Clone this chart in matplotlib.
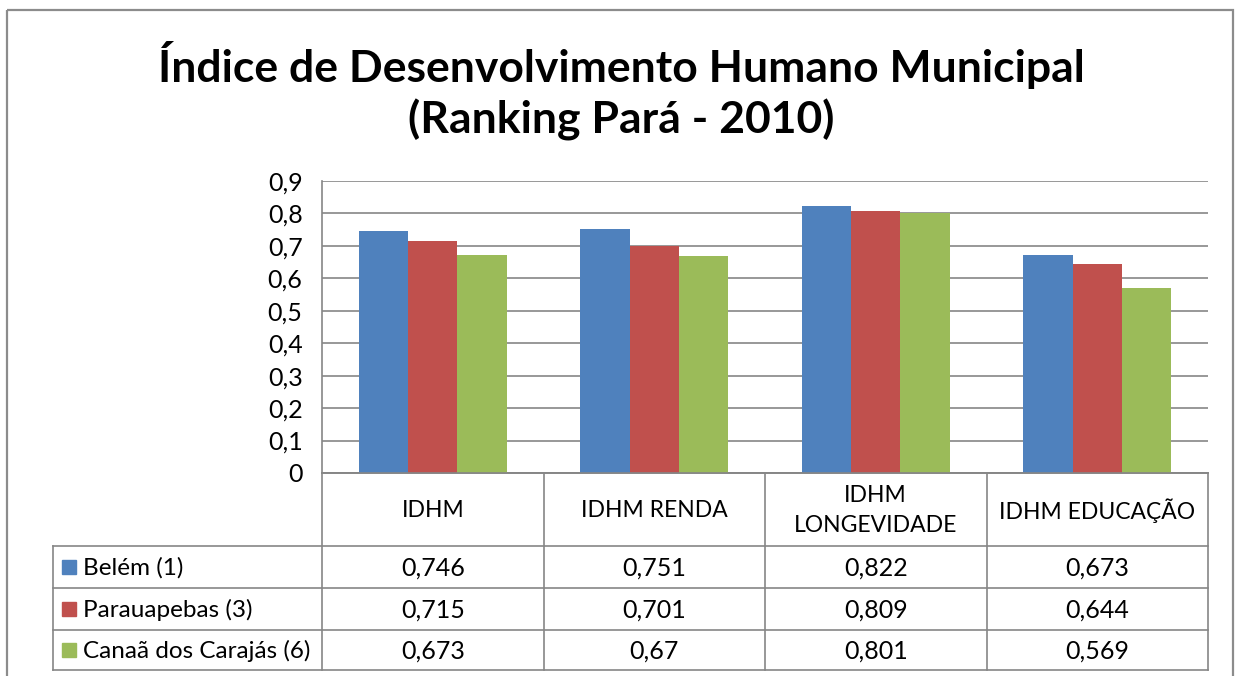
import matplotlib.pyplot as plt
import numpy as np
from matplotlib.patches import Rectangle
from matplotlib.ticker import FuncFormatter

plt.rcParams['font.family'] = ['Lato', 'DejaVu Sans']

# dados
categorias = ["IDHM", "IDHM RENDA", "IDHM\nLONGEVIDADE", "IDHM EDUCAÇÃO"]
series = ["Belém (1)", "Parauapebas (3)", "Canaã dos Carajás (6)"]
belem = [0.746, 0.751, 0.822, 0.673]
parauapebas = [0.715, 0.701, 0.809, 0.644]
canaa = [0.673, 0.670, 0.801, 0.569]
rotulos = [["0,746", "0,751", "0,822", "0,673"],
           ["0,715", "0,701", "0,809", "0,644"],
           ["0,673", "0,67", "0,801", "0,569"]]
cores = ["#4F81BD", "#C0504D", "#9BBB59"]

W, H = 1238, 676
fig = plt.figure(figsize=(W / 100, H / 100), dpi=100)

# area do grafico (pixels da figura)
L, R, T, B = 322, 1208, 181, 473
ax = fig.add_axes([L / W, 1 - B / H, (R - L) / W, (B - T) / H])

x = np.arange(len(categorias))
w = 1 / 4.5
for k, vals in enumerate([belem, parauapebas, canaa]):
    ax.bar(x + (k - 1) * w, vals, width=w, color=cores[k], zorder=3)

ax.set_xlim(-0.5, len(categorias) - 0.5)
ax.set_ylim(0, 0.9)
ax.set_yticks(np.arange(0, 0.95, 0.1))
ax.yaxis.set_major_formatter(FuncFormatter(lambda v, p: ("%g" % round(v, 1)).replace(".", ",")))
ax.set_xticks([])
ax.tick_params(axis='y', length=0, pad=14, labelsize=18)
ax.grid(axis='y', color='#868686', lw=1.2, zorder=0)
for s in ['top', 'right']:
    ax.spines[s].set_visible(False)
for s in ['left', 'bottom']:
    ax.spines[s].set_color('#868686')
    ax.spines[s].set_linewidth(1.2)

# camada para tabela e moldura, em pixels
ov = fig.add_axes([0, 0, 1, 1], zorder=-1)
ov.set_xlim(0, W)
ov.set_ylim(H, 0)
ov.axis('off')
ov2 = fig.add_axes([0, 0, 1, 1])
ov2.set_xlim(0, W)
ov2.set_ylim(H, 0)
ov2.axis('off')
ov2.patch.set_alpha(0)

ov.add_patch(Rectangle((7, 10), 1226, 700, fill=False, ec='#8c8c8c', lw=1.6))

cols = np.linspace(L, R, len(categorias) + 1)
linhas = [473, 546, 588, 630, 670]
tl = 53
gc = '#868686'
for cx in cols:
    ov2.plot([cx, cx], [linhas[0], linhas[-1]], color=gc, lw=1.2)
ov2.plot([tl, tl], [linhas[1], linhas[-1]], color=gc, lw=1.2)
ov2.plot([L, R], [linhas[0], linhas[0]], color=gc, lw=1.2)
for yy in linhas[1:]:
    ov2.plot([tl, R], [yy, yy], color=gc, lw=1.2)

for i, c in enumerate(categorias):
    ov2.text((cols[i] + cols[i + 1]) / 2, (linhas[0] + linhas[1]) / 2 + 1, c,
             ha='center', va='center', fontsize=16.5, linespacing=1.5)

for k, nome in enumerate(series):
    yc = (linhas[k + 1] + linhas[k + 2]) / 2
    ov2.add_patch(Rectangle((62, yc - 7), 14, 14, color=cores[k]))
    ov2.text(83, yc + 1, nome, ha='left', va='center', fontsize=17.5)
    for i in range(len(categorias)):
        ov2.text((cols[i] + cols[i + 1]) / 2, yc + 1, rotulos[k][i],
                 ha='center', va='center', fontsize=18)

ov2.text(621, 65, "Índice de Desenvolvimento Humano Municipal", ha='center', va='center',
         fontsize=32, fontweight='bold')
ov2.text(621, 120, "(Ranking Pará - 2010)", ha='center', va='center',
         fontsize=32, fontweight='bold')

fig.savefig("out.png", dpi=100)
